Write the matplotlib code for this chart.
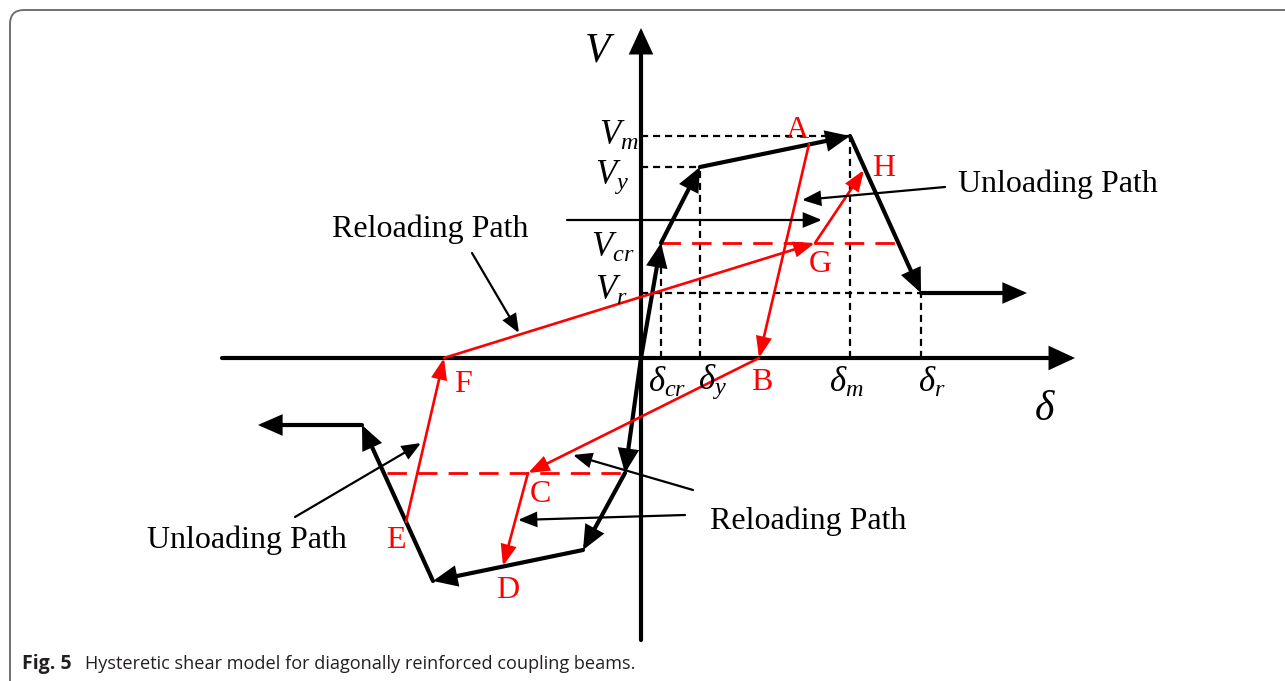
import matplotlib
matplotlib.use("Agg")
import matplotlib.pyplot as plt
from matplotlib.patches import FancyBboxPatch

plt.rcParams["mathtext.fontset"] = "custom"
plt.rcParams["mathtext.it"] = "Liberation Serif:italic"
plt.rcParams["mathtext.rm"] = "Liberation Serif"
SERIF = "Liberation Serif"

# Characteristic points of the backbone (deformation d, shear V)
d_cr, d_y, d_m, d_r = 20, 59, 209, 280
V_cr, V_y, V_m, V_r = 115, 191, 222, 65
d_end = 386

# Negative backbone branch
neg_d = [0, -16, -58, -208, -279, -383]
neg_v = [0, -115, -192, -223, -67, -67]

# Positive backbone branch
pos_d = [0, d_cr, d_y, d_m, d_r, d_end]
pos_v = [0, V_cr, V_y, V_m, V_r, V_r]

# Hysteretic loop points
loop_names = ["A", "B", "C", "D", "E", "F", "G", "H"]
loop_d = [168, 118, -113, -138, -235, -197, 174, 223]
loop_v = [214, 0, -115, -208, -164, 0, 115, 188]
# Segments of the loop drawn as arrows (from, to)
loop_segments = [("A", "B"), ("B", "C"), ("C", "D"), ("E", "F"), ("F", "G"), ("G", "H")]

# Crack-level dashed lines (d_start, d_end, V)
crack_lines = [(d_cr, 262, V_cr), (-254, -16, -V_cr)]

RED = "#ff0000"

fig = plt.figure(figsize=(12.85, 6.81), dpi=100)
ax = fig.add_axes([0, 0, 1, 1])
ax.set_xlim(-641, 644)
ax.set_ylim(-323, 358)
ax.axis("off")


def arrow(p0, p1, color="black", lw=3.0, hl=14, hw=7):
    ax.annotate("", xy=p1, xytext=p0,
                arrowprops=dict(arrowstyle=f"-|>,head_length={hl},head_width={hw}",
                                mutation_scale=1, lw=lw, color=color,
                                shrinkA=0, shrinkB=0, joinstyle="miter"))


# Frame
ax.add_patch(FancyBboxPatch((-631, -500), 2000, 848,
                            boxstyle="round,pad=0,rounding_size=14",
                            fc="none", ec="#707070", lw=1.4))

# Axes with arrows
arrow((-419, 0), (434, 0), lw=3.0, hl=14, hw=6.5)
arrow((0, -282), (0, 330), lw=3.0, hl=14, hw=6.5)

# Dashed guide lines
dash = dict(color="black", lw=1.6, ls=(0, (3.2, 2.2)))
ax.plot([0, d_m], [V_m, V_m], **dash)
ax.plot([0, d_y], [V_y, V_y], **dash)
ax.plot([0, d_r], [V_r, V_r], **dash)
ax.plot([d_cr, d_cr], [0, V_cr], **dash)
ax.plot([d_y, d_y], [0, V_y], **dash)
ax.plot([d_m, d_m], [0, V_m], **dash)
ax.plot([d_r, d_r], [0, V_r], **dash)
for x0, x1, v in crack_lines:
    ax.plot([x0, x1], [v, v], color=RED, lw=2.0, ls=(0, (7, 4)))

# Backbone branches
for dd, vv in ((pos_d, pos_v), (neg_d, neg_v)):
    for i in range(len(dd) - 1):
        arrow((dd[i], vv[i]), (dd[i + 1], vv[i + 1]), lw=3.0, hl=12.5, hw=5.5)

# Hysteretic loop
pts = {n: (x, y) for n, x, y in zip(loop_names, loop_d, loop_v)}
for a, b in loop_segments:
    arrow(pts[a], pts[b], color=RED, lw=1.9, hl=12, hw=4.5)

# Pointer arrows for path annotations
thin = dict(lw=1.6, hl=11, hw=4.5)
arrow((304, 171), (161, 158), **thin)
arrow((-74, 138), (181, 138), **thin)
arrow((-169, 105), (-122, 25), **thin)
arrow((-346, -159), (-220, -85), **thin)
arrow((52, -132), (-68, -97), **thin)
arrow((44, -157), (-123, -162), **thin)

# Point labels
lab_pos = {"A": (156, 228), "B": (121, -24), "C": (-101, -136), "D": (-133, -232),
           "E": (-245, -182), "F": (-178, -26), "G": (179, 93), "H": (243, 190)}
for n, (x, y) in lab_pos.items():
    ax.text(x, y, n, color=RED, fontsize=23, family=SERIF, ha="center", va="center")

# Axis and level labels
ax.text(-41, 308, r"$V$", fontsize=30, ha="center", va="center")
ax.text(404, -50, r"$\delta$", fontsize=30, ha="center", va="center")
ax.text(-22, 223, r"$V_m$", fontsize=25, ha="center", va="center")
ax.text(-29, 181, r"$V_y$", fontsize=25, ha="center", va="center")
ax.text(-28, 111, r"$V_{cr}$", fontsize=25, ha="center", va="center")
ax.text(-30, 68, r"$V_r$", fontsize=25, ha="center", va="center")
ax.text(d_cr + 6, -24, r"$\delta_{cr}$", fontsize=25, ha="center", va="center")
ax.text(d_y + 12, -24, r"$\delta_y$", fontsize=25, ha="center", va="center")
ax.text(d_m - 4, -24, r"$\delta_m$", fontsize=25, ha="center", va="center")
ax.text(d_r + 11, -24, r"$\delta_r$", fontsize=25, ha="center", va="center")

# Path annotations
ann = dict(fontsize=23, family=SERIF, ha="center", va="center")
ax.text(417, 174, "Unloading Path", **ann)
ax.text(-211, 129, "Reloading Path", **ann)
ax.text(-394, -182, "Unloading Path", **ann)
ax.text(167, -163, "Reloading Path", **ann)

# Caption
ax.text(-619, -306, "Fig. 5", fontsize=14, fontweight="bold", family="Open Sans",
        ha="left", va="center", color="#231f20")
ax.text(-556, -306, "Hysteretic shear model for diagonally reinforced coupling beams.",
        fontsize=13.1, family="Open Sans", ha="left", va="center", color="#231f20")

fig.savefig("out.png", dpi=100)
